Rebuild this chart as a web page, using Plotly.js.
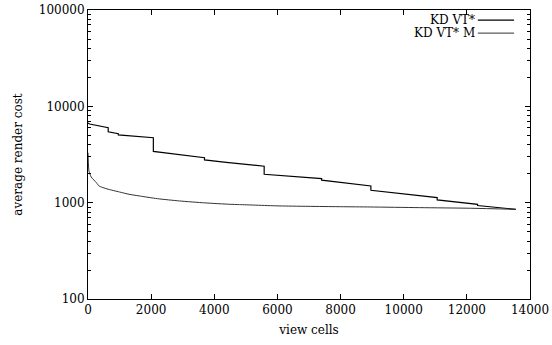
<!DOCTYPE html>
<html>
<head>
<meta charset="utf-8">
<script src="https://cdn.plot.ly/plotly-3.0.1.min.js"></script>
<style>html,body{margin:0;padding:0;background:#fff;}#chart{width:552px;height:345px;}</style>
</head>
<body>
<div id="chart"></div>
<script>
// KD VT* (step curve)
var kdCells = [0, 50, 640, 640, 960, 960, 2070, 2070, 3690, 3690, 4380, 5580, 5580, 7400, 7400, 8960, 8960, 11060, 11060, 12340, 12340, 13550];
var kdCost  = [6700, 6550, 6000, 5450, 5200, 5050, 4720, 3400, 2930, 2780, 2620, 2390, 1970, 1780, 1710, 1490, 1345, 1127, 1067, 962, 935, 853];
// KD VT* M (smooth curve)
var kdmCells = [0, 10, 30, 100, 265, 350, 600, 1000, 1300, 1620, 2200, 2900, 3700, 4490, 4800, 6080, 7990, 8940, 10500, 12120, 13550];
var kdmCost  = [3300, 2700, 2135, 1850, 1613, 1490, 1390, 1290, 1222, 1175, 1100, 1042, 995, 962, 955, 925, 908, 902, 888, 875, 853];
var seriesNames = ["KD VT*", "KD VT* M"];
var xTicks = [0, 2000, 4000, 6000, 8000, 10000, 12000, 14000];

var font = {family: "DejaVu Serif", size: 12, color: "#000"};

var traces = [
  {x: kdCells, y: kdCost, mode: "lines", name: seriesNames[0], line: {color: "#000", width: 1.2}, showlegend: false},
  {x: kdmCells, y: kdmCost, mode: "lines", name: seriesNames[1], line: {color: "#333", width: 1, shape: "spline", smoothing: 0.6}, showlegend: false}
];

var layout = {
  width: 552, height: 345,
  margin: {l: 88, r: 22, t: 10, b: 46},
  paper_bgcolor: "#fff", plot_bgcolor: "#fff",
  font: font,
  xaxis: {
    range: [0, 14000], tickvals: xTicks, ticktext: xTicks.map(String),
    ticks: "inside", ticklen: 5, tickcolor: "#000", showline: true, linecolor: "#000", linewidth: 1,
    mirror: "ticks", showgrid: false, zeroline: false,
    title: {text: "view cells", font: font, standoff: 9}, tickfont: font
  },
  yaxis: {
    type: "log", range: [2, 5], dtick: 1, tickformat: "d",
    ticks: "inside", ticklen: 5, tickcolor: "#000", showline: true, linecolor: "#000", linewidth: 1,
    mirror: "ticks", showgrid: false, zeroline: false,
    minor: {dtick: "D1", ticks: "inside", ticklen: 3, tickcolor: "#000", showgrid: false},
    title: {text: "average render cost", font: font, standoff: 13}, tickfont: font
  },
  annotations: [
    {xref: "paper", yref: "paper", x: 0.877, y: 0.965, xanchor: "right", yanchor: "middle", height: 12, valign: "middle", borderpad: 0, text: seriesNames[0], showarrow: false, font: font},
    {xref: "paper", yref: "paper", x: 0.877, y: 0.92, xanchor: "right", yanchor: "middle", height: 12, valign: "middle", borderpad: 0, text: seriesNames[1], showarrow: false, font: font}
  ],
  shapes: [
    {type: "line", xref: "paper", yref: "paper", x0: 0.882, x1: 0.964, y0: 0.965, y1: 0.965, line: {color: "#000", width: 1.2}},
    {type: "line", xref: "paper", yref: "paper", x0: 0.882, x1: 0.964, y0: 0.92, y1: 0.92, line: {color: "#333", width: 1}}
  ]
};

Plotly.newPlot("chart", traces, layout, {displayModeBar: false, staticPlot: true});
</script>
</body>
</html>
